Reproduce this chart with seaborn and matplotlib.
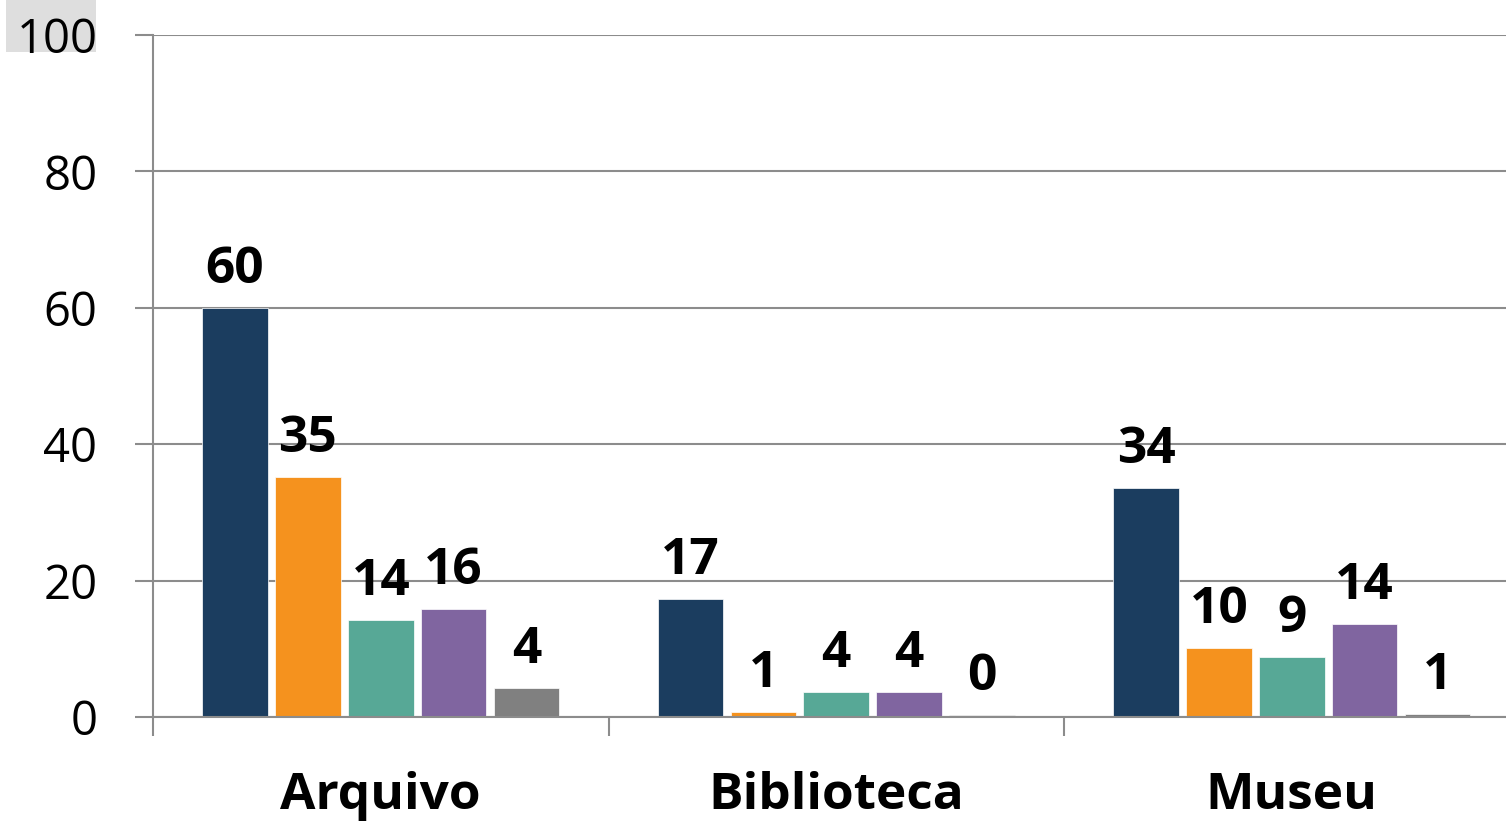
import matplotlib
matplotlib.use("Agg")
import matplotlib.pyplot as plt
from matplotlib.patches import Rectangle
import seaborn as sns
import pandas as pd
import numpy as np

categories = ["Arquivo", "Biblioteca", "Museu"]
series_names = ["S1", "S2", "S3", "S4", "S5"]
s1 = [60.0, 17.3, 33.6]
s2 = [35.2, 0.8, 10.1]
s3 = [14.2, 3.6, 8.8]
s4 = [15.8, 3.7, 13.6]
s5 = [4.3, 0.35, 0.5]
labels_s1 = ["60", "17", "34"]
labels_s2 = ["35", "1", "10"]
labels_s3 = ["14", "4", "9"]
labels_s4 = ["16", "4", "14"]
labels_s5 = ["4", "0", "1"]
yticks = [0, 20, 40, 60, 80, 100]
colors = ["#1b3d5f", "#f5921e", "#57a896", "#8065a0", "#808080"]

all_vals = [s1, s2, s3, s4, s5]
all_labels = [labels_s1, labels_s2, labels_s3, labels_s4, labels_s5]
rows = []
for name, vals in zip(series_names, all_vals):
    for c, v in zip(categories, vals):
        rows.append({"cat": c, "serie": name, "valor": v})
df = pd.DataFrame(rows)

sns.set_style("white")
plt.rcParams["font.family"] = ["Open Sans", "DejaVu Sans"]
plt.rcParams["text.color"] = "black"
plt.rcParams["xtick.color"] = "black"
plt.rcParams["ytick.color"] = "black"

fig = plt.figure(figsize=(15.06, 8.22), dpi=100)
# grey highlight box behind the top tick label
fig.patches.append(Rectangle((6/1506, 1 - 52/822), 90/1506, 52/822,
                             transform=fig.transFigure, facecolor="#dedede",
                             edgecolor="none", zorder=-5))
ax = fig.add_axes([153/1506, 105/822, (1506-153)/1506, (717-35)/822])
ax.set_zorder(1)
ax.patch.set_alpha(0)

sns.barplot(data=df, x="cat", y="valor", hue="serie", order=categories,
            hue_order=series_names, palette=colors, width=0.8, gap=0.1,
            legend=False, ax=ax, edgecolor="white", linewidth=0.5, saturation=1)

# value labels
for cont, labs in zip(ax.containers, all_labels):
    for rect, lab in zip(cont, labs):
        xc = rect.get_x() + rect.get_width() / 2
        ax.annotate(lab, (xc, rect.get_height()), xytext=(0, 18),
                    textcoords="offset points", ha="center", va="baseline",
                    fontsize=37, fontweight="bold", color="black")

ax.set_ylim(0, 100)
ax.set_xlim(-0.5, -0.5 + (1506 - 153) / 455.5)
ax.set_yticks(yticks)
ax.set_yticklabels([str(t) for t in yticks], fontsize=34, color="black")
ax.set_xticks(range(len(categories)))
ax.set_xticklabels(categories, fontsize=37, fontweight="bold", color="black")
ax.set_xticks([-0.5, 0.5, 1.5], minor=True)
ax.tick_params(axis="x", which="major", length=0, pad=39, bottom=True)
ax.tick_params(axis="x", which="minor", length=14, width=1.5, color="#8c8c8c",
               direction="out", bottom=True)
ax.tick_params(axis="y", length=13, width=1.5, color="#8c8c8c", pad=27, left=True,
               labelcolor="black")
ax.set_xlabel("")
ax.set_ylabel("")

ax.yaxis.grid(True, color="#8c8c8c", linewidth=1.5)
ax.set_axisbelow(True)
for side in ["top", "right"]:
    ax.spines[side].set_visible(False)
for side in ["left", "bottom"]:
    ax.spines[side].set_color("#8c8c8c")
    ax.spines[side].set_linewidth(1.5)

fig.savefig("out.png", dpi=100)
